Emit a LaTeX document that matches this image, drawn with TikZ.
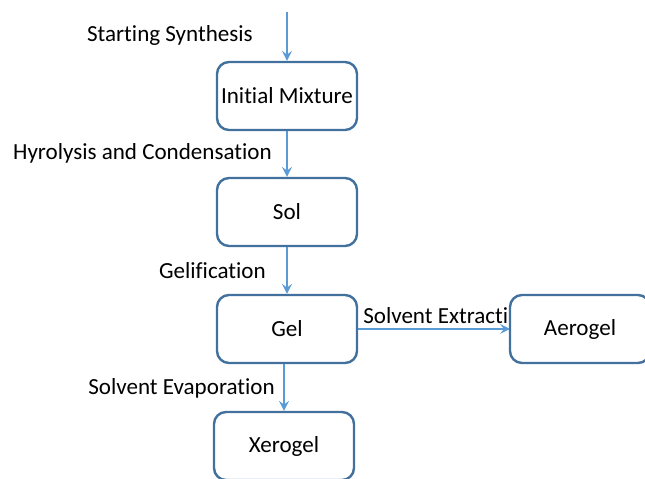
\documentclass[tikz,border=0pt]{standalone}
\usepackage{fontspec}
\setmainfont[Ligatures=NoCommon]{Carlito}
\definecolor{boxline}{HTML}{41719C}
\definecolor{flowline}{HTML}{5B9BD5}
\begin{document}
\begin{tikzpicture}[
    font=\fontsize{16.4}{19}\selectfont,
    stage/.style={draw=boxline, fill=white, line width=1.7pt, rectangle, rounded corners=0.3cm, minimum width=3.5cm, minimum height=1.7cm, inner sep=1pt, align=center},
    step label/.style={inner sep=0pt},
    arrow/.style={->, >=stealth, line width=2pt, draw=flowline}
]
\useasboundingbox (0,0) rectangle (16.125,11.975);
% Stages
\coordinate (start) at (7.175, 11.675);
\node[stage] (init) at (7.175, 9.575) {Initial Mixture};
\node[stage] (sol) at (7.175, 6.675) {Sol};
\node[stage] (gel) at (7.175, 3.75) {Gel};
\node[stage] (xero) at (7.1, 0.825) {Xerogel};
% Arrows
\draw[arrow] (start) -- (init);
\draw[arrow] (init) -- (sol);
\draw[arrow] (sol) -- (gel);
\draw[arrow] (gel.south -| xero) -- (xero);
\draw[arrow] (gel) -- (12.75, 3.75) coordinate (aerin);
% Labels
\node[step label, anchor=east] (lstart) at (6.325, 11.1) {Starting Synthesis};
\node[step label, anchor=east] (lhydro) at (6.8, 8.15) {Hyrolysis and Condensation};
\node[step label, anchor=east] (lgel) at (6.65, 5.2) {Gelification};
\node[step label, anchor=east] (levap) at (6.875, 2.275) {Solvent Evaporation};
\node[step label, anchor=west] (lextr) at (9.075, 4.075) {Solvent Extracti};
\node[stage] (aero) at (14.5, 3.75) {Aerogel};
\end{tikzpicture}
\end{document}
